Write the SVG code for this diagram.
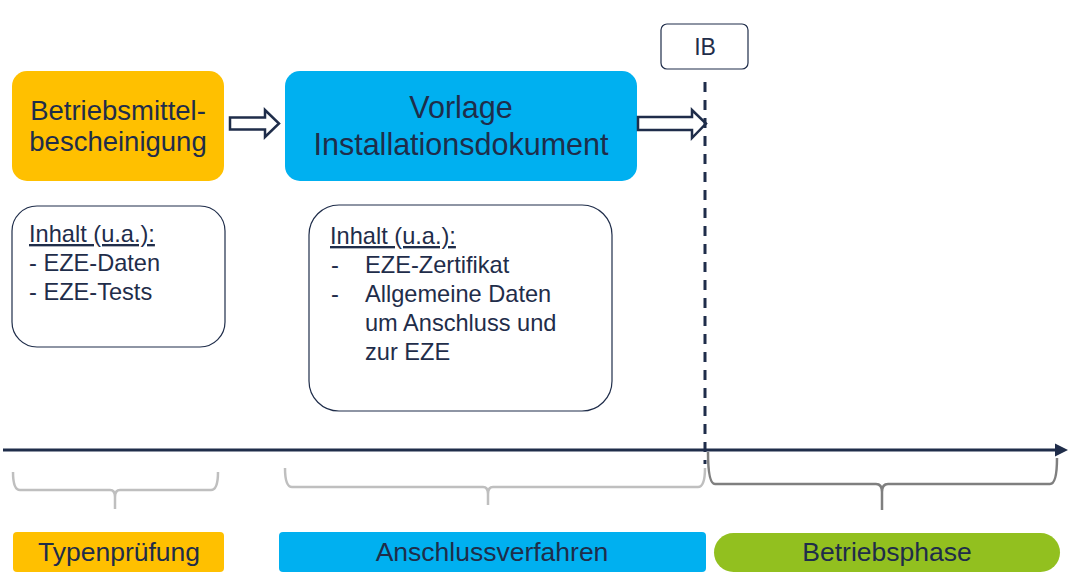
<svg xmlns="http://www.w3.org/2000/svg" width="1069" height="582" viewBox="0 0 1069 582">
<style>
text{font-family:"Liberation Sans",Arial,sans-serif;fill:#1f2d4a}
.big{font-size:27.5px;text-anchor:middle}
.mid{font-size:23.6px}
.lab{font-size:26.5px;text-anchor:middle}
.box{fill:#fff;stroke:#1f2d4a;stroke-width:1.2}
.barrow{fill:#fff;stroke:#1f2d4a;stroke-width:2.5;stroke-linejoin:miter}
.brace{fill:none;stroke:#bfbfbf;stroke-width:2.5}
</style>
<defs>
<marker id="ah" markerWidth="14" markerHeight="14" refX="1" refY="7" orient="auto" markerUnits="userSpaceOnUse">
<path d="M0,0.5 L13,7 L0,13.5 z" fill="#1f2d4a"/>
</marker>
</defs>
<g id="node-betriebsmittel">
<rect x="12" y="71" width="212" height="110" rx="15" fill="#ffc000"/>
<text class="big" x="118" y="120">Betriebsmittel-</text>
<text class="big" x="118" y="151">bescheinigung</text>
</g>
<g id="node-vorlage">
<rect x="285" y="71" width="352" height="110" rx="15" fill="#00b0f0"/>
<text class="big" x="461" y="118" style="font-size:30.5px">Vorlage</text>
<text class="big" x="461" y="155" style="font-size:30.5px">Installationsdokument</text>
</g>
<g id="node-ib">
<rect x="661" y="24" width="87" height="45" rx="6" class="box"/>
<text x="705" y="55" font-size="23" text-anchor="middle">IB</text>
</g>
<g id="node-inhalt1">
<rect x="12" y="206" width="213" height="141" rx="25" class="box"/>
<text class="mid" x="29" y="242" text-decoration="underline">Inhalt (u.a.):</text>
<text class="mid" x="29" y="271">- EZE-Daten</text>
<text class="mid" x="29" y="300">- EZE-Tests</text>
</g>
<g id="node-inhalt2">
<rect x="309" y="205" width="303" height="206" rx="30" class="box"/>
<text class="mid" x="330" y="244" text-decoration="underline">Inhalt (u.a.):</text>
<text class="mid" x="331" y="273">-</text>
<text class="mid" x="365" y="273">EZE-Zertifikat</text>
<text class="mid" x="331" y="302">-</text>
<text class="mid" x="365" y="302">Allgemeine Daten</text>
<text class="mid" x="365" y="331">um Anschluss und</text>
<text class="mid" x="365" y="360">zur EZE</text>
</g>
<g id="node-typenpruefung">
<rect x="13" y="532" width="211" height="40" rx="4" fill="#ffc000"/>
<text class="lab" x="119" y="561">Typenprüfung</text>
</g>
<g id="node-anschlussverfahren">
<rect x="279" y="532" width="427" height="40" rx="4" fill="#00b0f0"/>
<text class="lab" x="492" y="561">Anschlussverfahren</text>
</g>
<g id="node-betriebsphase">
<rect x="714" y="533" width="346" height="39" rx="19.5" fill="#92c01f"/>
<text class="lab" x="887" y="561">Betriebsphase</text>
</g>
<g id="connectors">
<path class="barrow" d="M230,117.5 L265,117.5 L265,110 L279,123.5 L265,137 L265,129.5 L230,129.5 z"/>
<path class="barrow" d="M638,117 L692,117 L692,110 L706,123.5 L692,138 L692,130 L638,130 z"/>
<line x1="705" y1="82" x2="705" y2="464" stroke="#1f2d4a" stroke-width="3" stroke-dasharray="10 8"/>
<line x1="3" y1="450" x2="1056" y2="450" stroke="#1f2d4a" stroke-width="3" marker-end="url(#ah)"/>
<path class="brace" d="M13,472 Q13,490 20,490 L110,490 Q115,490 115,497 L115,509 M115,497 Q115,490 120,490 L211,490 Q218,490 218,472"/>
<path class="brace" d="M285,468 Q285,487 292,487 L483,487 Q488,487 488,494 L488,505 M488,494 Q488,487 493,487 L698,487 Q705,487 705,468"/>
<path class="brace" style="stroke:#7f7f7f" d="M708,452 Q708,484 715,484 L876,484 Q882,484 882,492 L882,510 M882,492 Q882,484 888,484 L1050,484 Q1057,484 1057,458"/>
</g>
</svg>
